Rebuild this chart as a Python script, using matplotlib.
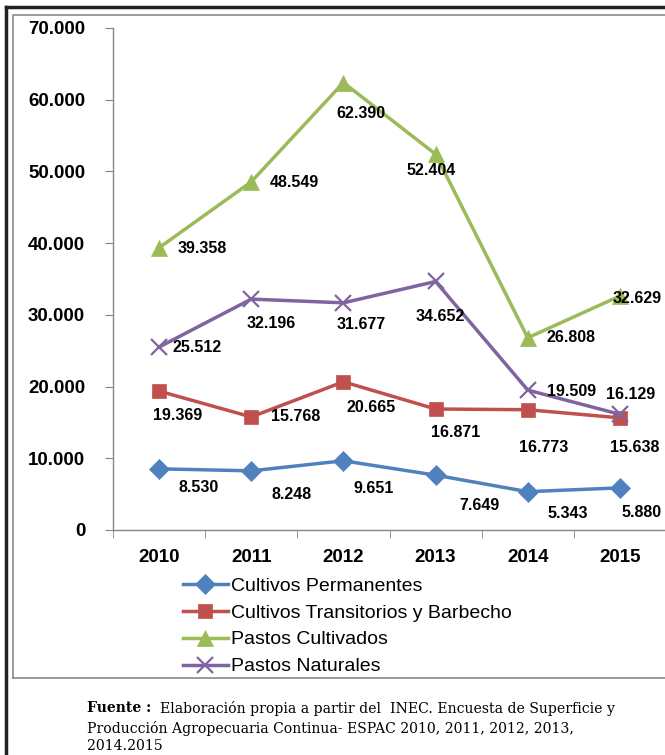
import matplotlib
matplotlib.use("Agg")
from matplotlib import pyplot as plt
from matplotlib.lines import Line2D
from matplotlib.ticker import FuncFormatter, FixedLocator

years = ["2010", "2011", "2012", "2013", "2014", "2015"]
permanentes = [8530, 8248, 9651, 7649, 5343, 5880]
transitorios = [19369, 15768, 20665, 16871, 16773, 15638]
pastos_cult = [39358, 48549, 62390, 52404, 26808, 32629]
pastos_nat = [25512, 32196, 31677, 34652, 19509, 16129]

# label offsets in pixels from each point (dx right, dy down)
off_perm = [(40, 19), (40, 24), (30, 28), (44, 30), (40, 22), (22, 25)]
off_trans = [(19, 24), (44, 0), (28, 26), (20, 23), (16, 38), (15, 30)]
off_cult = [(43, 1), (43, 1), (18, 31), (-4, 16), (43, 0), (17, 2)]
off_nat = [(38, 0), (20, 24), (18, 22), (5, 35), (44, 1), (11, -20)]

plt.rcParams['font.family'] = ['Liberation Sans', 'DejaVu Sans']

fig = plt.figure(figsize=(6.65, 7.55), dpi=100)
ax = fig.add_axes([113/665, 225/755, 553/665, 502/755])

x = list(range(len(years)))
series = [
    (permanentes, "Cultivos Permanentes", "#4F81BD", "D", 10, off_perm),
    (transitorios, "Cultivos Transitorios y Barbecho", "#C0504D", "s", 10.5, off_trans),
    (pastos_cult, "Pastos Cultivados", "#9BBB59", "^", 12, off_cult),
    (pastos_nat, "Pastos Naturales", "#8064A2", "x", 11, off_nat),
]
for vals, name, col, mk, ms, offs in series:
    ax.plot(x, vals, color=col, lw=2.5, marker=mk, markersize=ms,
            markeredgewidth=1.6 if mk == "x" else 0.5, markeredgecolor=col,
            label=name, clip_on=False)
    for xi, v, o in zip(x, vals, offs):
        ax.annotate(f"{v/1000:.3f}", (xi, v), xytext=(o[0], -o[1]), textcoords="offset pixels",
                    ha="center", va="center", fontsize=11.5, fontweight="bold",
                    annotation_clip=False)

ax.set_xlim(-0.5, 5.5)
ax.set_ylim(0, 70000)
ax.yaxis.set_major_locator(FixedLocator(range(0, 70001, 10000)))
ax.yaxis.set_major_formatter(FuncFormatter(lambda v, p: "0" if v == 0 else f"{v/1000:.3f}"))
ax.set_xticks(x)
ax.set_xticklabels(years)
ax.set_xticks([i - 0.5 for i in range(7)], minor=True)
ax.tick_params(axis="x", which="major", length=0, pad=14, labelsize=13.5)
ax.tick_params(axis="x", which="minor", length=6, direction="out", color="#868686")
ax.tick_params(axis="y", length=6, color="#868686", pad=14, labelsize=13.5)
for lab in ax.get_xticklabels() + ax.get_yticklabels():
    lab.set_fontweight("bold")
for s in ["top", "right"]:
    ax.spines[s].set_visible(False)
for s in ["left", "bottom"]:
    ax.spines[s].set_color("#868686")
    ax.spines[s].set_linewidth(1)

leg = fig.legend(loc="upper left", bbox_to_anchor=(183/665, 1 - 577/755), frameon=False,
                 fontsize=14, handlelength=2.3, handletextpad=0.15, labelspacing=0.48,
                 borderaxespad=0, borderpad=0)

# frames
fig.add_artist(Line2D([6/665, 6/665], [0, 1 - 7/755], color="#222222", lw=2.5, transform=fig.transFigure))
fig.add_artist(Line2D([6/665, 1], [1 - 7/755, 1 - 7/755], color="#222222", lw=2.5, transform=fig.transFigure))
fig.add_artist(Line2D([13/665, 13/665, 1], [1 - 678/755, 1 - 15/755, 1 - 15/755], color="#8a8a8a", lw=1.2, transform=fig.transFigure))
fig.add_artist(Line2D([13/665, 1], [1 - 678/755, 1 - 678/755], color="#8a8a8a", lw=1.2, transform=fig.transFigure))

cap_font = ['DejaVu Serif']
cap_size = 10.1
fig.text(87/665, 1 - 708/755, "Fuente :", fontsize=cap_size, fontweight="bold", family=cap_font, va="center")
fig.text(160/665, 1 - 708/755, "Elaboración propia a partir del  INEC. Encuesta de Superficie y",
         fontsize=cap_size, family=cap_font, va="center")
fig.text(87/665, 1 - 728/755, "Producción Agropecuaria Continua- ESPAC 2010, 2011, 2012, 2013,",
         fontsize=cap_size, family=cap_font, va="center")
fig.text(87/665, 1 - 746/755, "2014.2015", fontsize=cap_size, family=cap_font, va="center")

fig.savefig("out.png", dpi=100)
